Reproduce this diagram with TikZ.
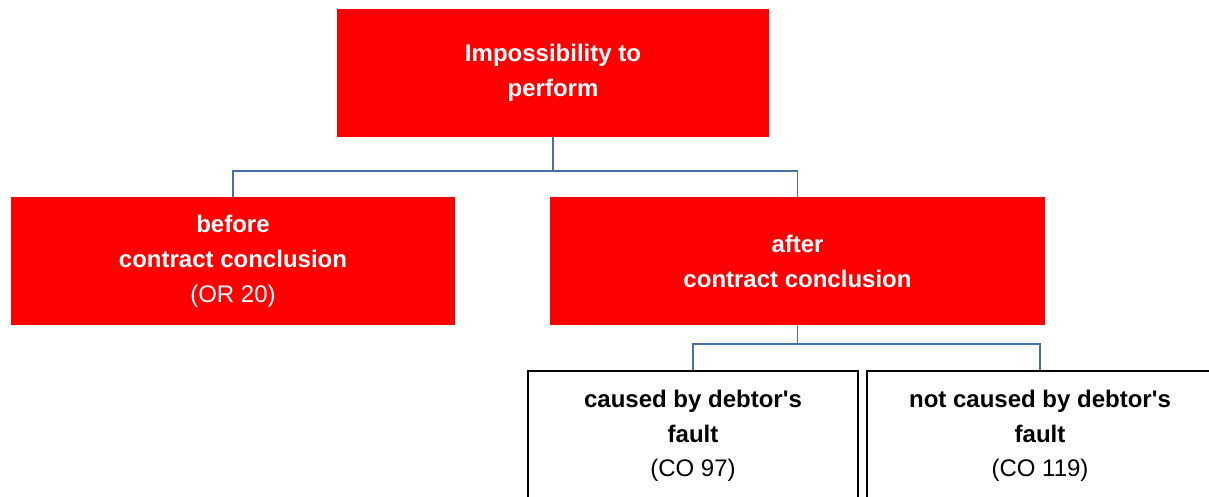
\documentclass[tikz,border=0pt]{standalone}
\usepackage{fontspec}
\setmainfont{Liberation Sans}
\definecolor{boxred}{RGB}{255,0,0}
\definecolor{linkblue}{RGB}{70,112,168}
\begin{document}
\begin{tikzpicture}[x = 1pt, y = -1pt,
        every node/.style={inner sep=0pt, align=center}
]
\tikzstyle{redbox}= [fill=boxred, text=white, minimum height=128pt, font=\fontsize{24}{35}\selectfont\bfseries]
\tikzstyle{plainbox}= [draw=black, line width=1.6pt, fill=white, minimum height=130pt, font=\fontsize{24}{34.5}\selectfont\bfseries]
\tikzstyle{link}= [draw=linkblue, line width=1.5pt]
    \useasboundingbox (0,0) rectangle (1209,496);
    \clip (0,0) rectangle (1209,496);
    \node[redbox, minimum width=432pt] (imp) at (553,73) {Impossibility to\\perform};
    \node[redbox, minimum width=444pt] (before) at (233,261) {before\\contract conclusion\\{\mdseries (OR 20)}};
    \node[redbox, minimum width=495pt] (after) at (797.5,261) {after\\contract conclusion};
    \node[plainbox, minimum width=330pt] (fault) at (693,436) {caused by debtor\textquotesingle s\\fault\\{\mdseries (CO 97)}};
    \node[plainbox, minimum width=346pt] (nofault) at (1040,436) {not caused by debtor\textquotesingle s\\fault\\{\mdseries (CO 119)}};

    \draw[link] (imp.south) -- ++(0,34) -| (before.north);
    \draw[link] (imp.south) -- ++(0,34) -| (after.north);
    \draw[link] (after.south) -- ++(0,19) -| (fault.north);
    \draw[link] (after.south) -- ++(0,19) -| (nofault.north);

\end{tikzpicture}
\end{document}
